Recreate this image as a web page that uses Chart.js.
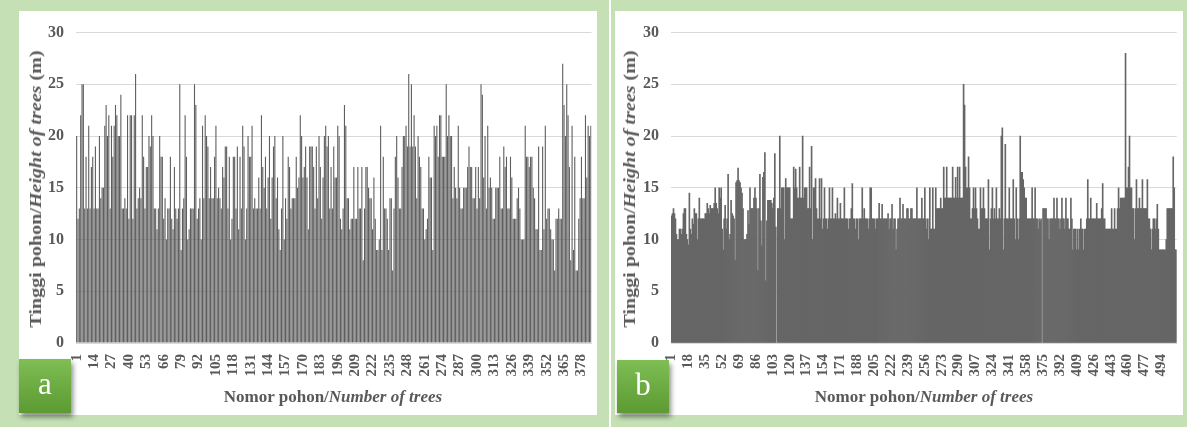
<!DOCTYPE html>
<html>
<head>
<meta charset="utf-8">
<script src="https://cdn.jsdelivr.net/npm/chart.js@4.4.1/dist/chart.umd.min.js"></script>
<style>
  body { margin: 0; width: 1187px; height: 427px; background: #c5e0b4; position: relative; overflow: hidden;
         font-family: "Liberation Serif", "Times New Roman", serif; }
  .panel { position: absolute; top: 11px; height: 404px; background: #fff; }
  #panelA { left: 19px; width: 578px; }
  #panelB { left: 615px; width: 568px; }
  .sep { position: absolute; left: 609px; top: 0; width: 2px; height: 427px; background: #fff; }
  canvas { position: absolute; left: 0; top: 0; }
  .ytitle, .xtitle { position: absolute; white-space: nowrap; font-weight: bold; font-size: 17px; color: #595959; }
  .ytitle { transform: translate(-50%, -50%) rotate(-90deg) scaleX(1.18); }
  .xtitle { transform: translate(-50%, -50%); }
  .tag { position: absolute; width: 52px; height: 54px; z-index: 5; color: #fff; font-size: 31px;
         text-align: center; line-height: 50px; background: linear-gradient(#7fbd55, #5b9b31);
         box-shadow: 2px 4px 5px rgba(0,0,0,0.45); }
</style>
</head>
<body>
<div class="sep"></div>
<div class="panel" id="panelA">
  <canvas id="chartA" width="578" height="404"></canvas>
  <div class="ytitle" style="left:17px;top:178px">Tinggi pohon/<i>Height of trees</i> (m)</div>
  <div class="xtitle" style="left:314px;top:386px">Nomor pohon/<i>Number of trees</i></div>
</div>
<div class="panel" id="panelB">
  <canvas id="chartB" width="568" height="404"></canvas>
  <div class="ytitle" style="left:15px;top:178px">Tinggi pohon/<i>Height of trees</i> (m)</div>
  <div class="xtitle" style="left:309px;top:386px">Nomor pohon/<i>Number of trees</i></div>
</div>
<div class="tag" style="left:19px;top:359px">a</div>
<div class="tag" style="left:617px;top:360px;height:53px">b</div>

<script>
// tree heights (m), panel a
const treeHeightA = [
  20,12,13,22,25,25,13,18,13,21, 13,17,18,13,19,13,13,20,14,15,
  15,21,23,20,22,13,21,18,21,23, 22,20,20,24,13,13,14,13,22,12,
  22,22,12,22,26,13,14,15,14,22, 18,13,17,17,20,19,22,20,13,13,
  11,13,20,18,18,12,14,10,13,13, 18,12,11,17,13,12,13,25,9,13,
  14,22,18,10,11,13,13,13,25,23, 12,13,14,10,21,14,22,20,19,14,
  17,14,14,18,21,14,15,14,13,17, 16,19,19,13,18,10,12,18,18,13,
  19,11,18,13,21,19,10,13,20,18, 18,21,13,14,13,13,16,13,22,17,
  15,18,13,16,20,12,16,19,20,14, 16,11,9,13,20,10,14,12,18,17,
  13,14,14,14,18,15,16,22,20,16, 17,19,16,11,19,19,19,17,13,19,
  14,20,17,12,16,20,21,19,20,13, 17,13,19,16,16,21,20,12,11,13,
  23,21,14,14,11,12,12,17,12,12, 17,13,13,17,8,13,17,17,15,14,
  14,11,16,12,9,9,10,21,9,18, 13,13,12,9,14,14,7,13,18,20,
  16,13,13,17,20,20,21,19,26,19, 25,19,22,19,14,20,18,17,13,13,
  10,11,12,18,16,16,9,21,20,21, 18,22,22,18,18,18,25,20,22,20,
  20,14,17,15,14,21,15,13,13,15, 15,15,17,19,17,17,14,14,17,13,
  17,14,25,24,16,20,13,21,15,16, 15,12,12,15,15,15,18,13,13,19,
  17,18,13,13,18,16,12,12,12,14, 15,13,10,10,10,21,18,18,17,18,
  18,15,14,11,11,19,9,9,19,11, 21,12,13,13,11,10,10,7,12,12,
  13,12,12,27,23,20,25,22,17,8, 21,9,18,7,7,12,14,18,14,14,
  22,16,21,20,21
];

// tree heights (m), panel b
const treeHeightB = [
  12.3,12.5,13,12.5,12,10.5,10,10,11,11, 10.5,11,12.5,13,13,10.5,10,9.5,14.5,11,
  10.5,12,11.5,13,12.5,12.5,10,12,14,12, 12,12,12,12,12.5,12.5,13.5,13,12.5,13.3,
  13,13,13,13.5,15,13.5,13,12.5,15,14, 15,11,9,12,13.3,11,12,16.3,10,10.5,
  13.8,12.5,12.3,12,8,15.5,15.7,16.9,15.7,15.5, 15,14.5,13,10,10,10,10.5,12.8,11.5,15,
  13,13,13,14,15,14,13,7,13,16.3, 11.8,9.4,16,16.5,18.4,6,11.8,13.8,13.8,13.8,
  13.8,13.5,13,14,18.3,11.2,0,13,13,20, 13,15,15,15,10,15.9,15,15,15,15,
  12,12,12,17,15,16.8,15,14,14,17, 14,14,20,14,15,15,15,13,13,17,
  13,19,10,15,15,15.9,13,12,12,15.9, 12,15.9,11,12,15,12,12,11,12,15,
  12,12,15,12,12,12.5,12,14,12,12, 13.5,12,12,12,15,12,12,12,11,12,
  12,13,15.4,12,12,11,12,12,10,12, 12,12,15,12,13,12,12,12,11,12,
  15,15,12,12,12,11,12,12,12,13.5, 12,12,13.4,12,12,12,12,12,12.5,11,
  12,12,13.4,11,12,12,9,11,12,12, 14,12,12,13.4,12,12,12,13,13,12,
  12,13,13,12,12,12,12,15,12,12, 12,12,14,12,12,15,12,11,12,10,
  15,11,11,15,11,11,15,13,13,13, 13,14,13,13,17,14,14,17,14,14,
  14,14,14,17,14,14,16,14,17,14, 17,14,14,14,25,23,17,15,15,18,
  15,12,12,13,15,13,15,13,12,11, 11,15,13,13,15,13,12,12,12,15.8,
  9,12,13,15,12,13,12,15,12,12, 13,12,20,20.8,9,12,19.2,12,12,12,
  15,12,12,12,15.8,12,10,15,12,10, 12,20,16.5,16.5,15.8,15,14,14,12,12,
  12,12,12,15,12,12,15,12,12,11, 12,11.8,12,0,13,13,13,13,12,12,
  10,12,12,12,12,14,12,12,14,12, 12,11,12,14,12,12,11,14,12,12,
  11,11,14,12,9,11,11,11,9,11, 9,11,12,11,11,9,11,11,12,15.8,
  12,12,14,12,12,12,12,12,13.5,12, 12,12,12,13,15.4,12,12,11,11,11,
  11,11,11,13,11,11,13,11,11,13, 15,13,14,14,14,14,14,28,15,15,
  17,20,15,15,13,13,10,13,15.8,13, 13,14,13,13,15.8,13,13,13,13,15.8,
  12,12,11,9,11,12,12,11,12,13.4, 11,9,9,9,9,9,9,9,10,13,
  13,13,13,13,13,18,15,9,9
];

// tree numbers shown on the x axis
const tickLabelsA = ['1','14','27','40','53','66','79','92','105','118','131','144','157','170','183',
  '196','209','222','235','248','261','274','287','300','313','326','339','352','365','378'];
const tickLabelsB = ['1','18','35','52','69','86','103','120','137','154','171','188','205','222','239',
  '256','273','290','307','324','341','358','375','392','409','426','443','460','477','494'];

const yTicks = [0, 5, 10, 15, 20, 25, 30];

const textColor = '#595959';

function makeChart(id, values, shownLabels, cfg) {
  const labels = values.map((_, i) => String(i + 1));
  const shown = new Set(shownLabels);
  return new Chart(document.getElementById(id), {
    type: 'bar',
    data: {
      labels,
      datasets: [{
        data: values,
        backgroundColor: cfg.color,
        borderWidth: 0,
        barPercentage: cfg.barPct,
        categoryPercentage: 1
      }]
    },
    options: {
      responsive: false,
      animation: false,
      events: [],
      layout: { padding: { top: 20, right: cfg.rightPad, left: 0, bottom: 0 } },
      plugins: { legend: { display: false }, tooltip: { enabled: false } },
      scales: {
        x: {
          grid: { display: false },
          border: { display: true, color: '#d9d9d9' },
          ticks: {
            autoSkip: false,
            minRotation: 90,
            maxRotation: 90,
            padding: 3,
            color: textColor,
            font: { family: '"Liberation Serif", serif', weight: 'bold', size: 15 },
            callback: function (v) {
              const lab = this.getLabelForValue(v);
              return shown.has(lab) ? lab : '';
            }
          },
          afterFit: s => { s.height = 72; s.paddingLeft = 0; s.paddingRight = 0; }
        },
        y: {
          min: 0,
          max: 30,
          afterBuildTicks: s => { s.ticks = yTicks.map(v => ({ value: v })); },
          grid: { color: '#d9d9d9', drawTicks: false },
          border: { display: false },
          ticks: {
            padding: 12,
            color: textColor,
            font: { family: '"Liberation Serif", serif', weight: 'bold', size: 16 }
          },
          afterFit: s => { s.width = cfg.yWidth; }
        }
      }
    }
  });
}

makeChart('chartA', treeHeightA, tickLabelsA, { barPct: 0.82, rightPad: 5.5, yWidth: 57, color: '#5e5e5e' });
makeChart('chartB', treeHeightB, tickLabelsB, { barPct: 1, rightPad: 6.3, yWidth: 56, color: '#666666' });
</script>
</body>
</html>
